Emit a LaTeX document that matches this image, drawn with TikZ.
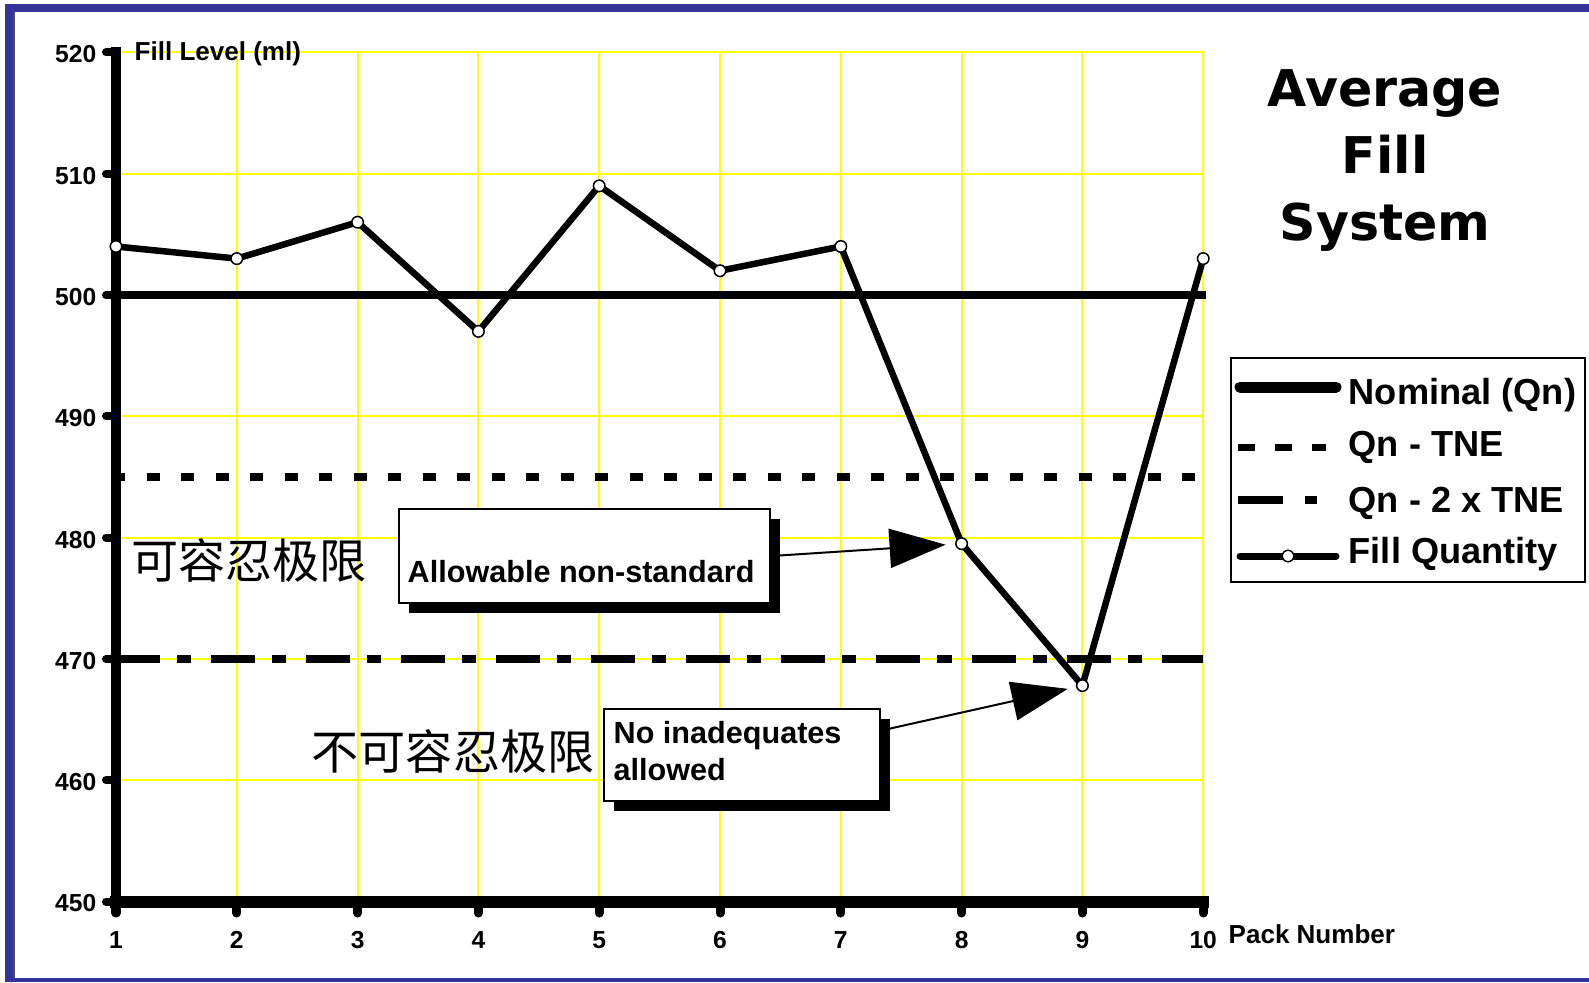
\documentclass[tikz,border=0pt]{standalone}
\usepackage{fontspec}
\setmainfont{Liberation Sans}
\newfontfamily\titlefont{DejaVu Sans}
\newfontfamily\cjkfont{Noto Sans CJK SC}
\usepackage{tikz}
\usetikzlibrary{arrows.meta}
\usetikzlibrary{shadows}
\definecolor{frameColor}{HTML}{333399}
\definecolor{gridColor}{HTML}{FFFF00}
\newcommand{\packx}[1]{116+(#1-1)*120.8}
\newcommand{\mly}[1]{295-(#1-500)*12.13}

\begin{document}
\begin{tikzpicture}[x=0.01cm, y=-0.01cm,
    gridline/.style={gridColor, line width=0.2mm},
    nominalline/.style={line width=0.8mm},
    tneline/.style={line width=0.8mm, dash pattern=on 1.3mm off 2.15mm, dash phase=0.4mm},
    tnetwoline/.style={line width=0.75mm, dash pattern=on 4.4mm off 1.7mm on 1.4mm off 2mm},
    fillline/.style={line width=0.65mm, line join=round},
    dot/.style={circle, draw, fill=white, line width=0.15mm, inner sep=0pt, minimum size=1.15mm},
    ticklabel/.style={inner sep=0pt, font=\bfseries\fontsize{7}{8}\selectfont},
    axistitle/.style={inner sep=0pt, font=\bfseries\fontsize{7.4}{9}\selectfont},
    callout/.style={draw, fill=white, line width=0.2mm, drop shadow={shadow xshift=1mm, shadow yshift=-1mm, fill=black, opacity=1}},
    callouttext/.style={inner sep=0pt, font=\bfseries\fontsize{8.7}{10.5}\selectfont},
    legendtext/.style={inner sep=0pt, anchor=base west, font=\bfseries\fontsize{10.3}{12}\selectfont},
    cjktext/.style={inner sep=0pt, font=\cjkfont\fontsize{13.4}{16}\selectfont},
    pointer/.style={line width=0.2mm, -{Triangle[length=5.6mm, width=3.9mm]}}]
  \useasboundingbox (0,0) rectangle (1589,982);
  % blue frame
  \fill[frameColor] (5,4) rectangle (1589,12);
  \fill[frameColor] (5,4) rectangle (13,982);
  \fill[frameColor] (5,978) rectangle (1589,982);
  \draw[gray!60!black, line width=0.2mm] (14,12) -- (14,978);

  % grid
  \foreach \i in {2,...,10}
    \draw[gridline] ({\packx{\i}},52) -- ({\packx{\i}},902);
  \foreach \v in {460,470,...,520}
    \draw[gridline] (116,{\mly{\v}}) -- (1203,{\mly{\v}});

  % limits
  \draw[tneline] (116,{\mly{485}}) -- (1203,{\mly{485}});
  \draw[tnetwoline] (116,{\mly{470}}) -- (1203,{\mly{470}});
  \draw[nominalline] (116,{\mly{500}}) -- (1206,{\mly{500}});

  % axes
  \draw[line width=1mm, line cap=rect] (116,52) -- (116,902);
  \draw[line width=1.2mm, line cap=rect] (116,902) -- (1203,902);
  \foreach \v in {450,460,...,520} {
    \draw[line width=0.8mm, line cap=round] (106,{\mly{\v}}) -- (112,{\mly{\v}});
    \node[ticklabel, anchor=east] (ylab\v) at (97,{\mly{\v}+2}) {\v};
  }
  \foreach \i in {1,...,10} {
    \draw[line width=0.9mm, line cap=round] ({\packx{\i}},907) -- ({\packx{\i}},913);
    \node[ticklabel] (xlab\i) at ({\packx{\i}},940) {\i};
  }
  \node[axistitle, anchor=base west] (ytitle) at (134,61) {Fill Level (ml)};
  \node[axistitle, anchor=west] (xtitle) at (1228,934) {Pack Number};

  % fill quantity
  \foreach \v [count=\i] in {504,503,506,497,509,502,504,479.5,467.8,503}
    \coordinate (p\i) at ({\packx{\i}},{\mly{\v}});
  \draw[fillline] (p1) \foreach \i in {2,...,10} {-- (p\i)};
  \foreach \i in {1,...,10}
    \node[dot] (d\i) at (p\i) {};

  % callouts
  \node[callout, anchor=north west, minimum width=3.71cm, minimum height=0.94cm] (box1) at (398,508) {};
  \node[callouttext, anchor=base west] (box1txt) at (407,582) {Allowable non-standard};
  \node[callout, anchor=north west, minimum width=2.76cm, minimum height=0.92cm] (box2) at (603,708) {};
  \node[callouttext, anchor=north west, align=left] (box2txt) at (613,721) {No inadequates\\allowed};
  \draw[pointer, shorten >=1.6mm] (box1.east) -- (p8);
  \draw[pointer, shorten >=1.5mm] (box2.10) -- (p9);

  \node[cjktext] (tolerable) at (249,560) {可容忍极限};
  \node[cjktext] (intolerable) at (453,751) {不可容忍极限};

  % title
  \node[anchor=north, inner sep=0pt, align=center, font=\titlefont\bfseries\fontsize{14.4}{19.1}\selectfont] (title) at (1385,69) {Average\\Fill\\System};

  % legend
  \draw[line width=0.2mm] (1231,358) rectangle (1585,582);
  \draw[line width=1.1mm, line cap=round] (1240,387) -- (1336,387);
  \draw[line width=0.7mm, dash pattern=on 1.7mm off 2mm] (1238,447) -- (1326,447);
  \draw[line width=0.8mm, dash pattern=on 4.5mm off 2.2mm on 1.2mm off 2mm] (1238,500) -- (1317,500);
  \draw[line width=0.7mm, line cap=round] (1240,556) -- (1336,556);
  \node[dot] (legdot) at (1288,556) {};
  \node[legendtext] (legnominal) at (1348,404) {Nominal (Qn)};
  \node[legendtext] (legtne) at (1348,456) {Qn - TNE};
  \node[legendtext] (legtwotne) at (1348,512) {Qn - 2 x TNE};
  \node[legendtext] (legfill) at (1348,563) {Fill Quantity};
\end{tikzpicture}
\end{document}
